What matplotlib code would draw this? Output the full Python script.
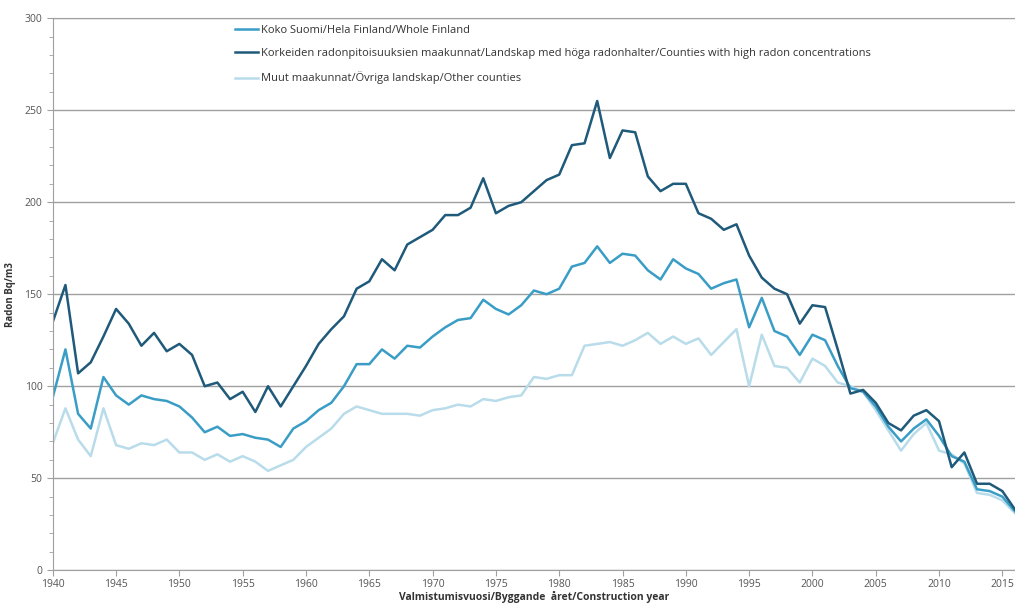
import numpy as np
import matplotlib
matplotlib.use("Agg")
import matplotlib.pyplot as plt
from matplotlib.ticker import MultipleLocator

plt.rcParams['font.family'] = ['Open Sans', 'DejaVu Sans']

# Data (Bq/m3 by construction year)
years = list(range(1940, 2017))

whole_finland = [
    94, 120, 85, 77, 105, 95, 90, 95, 93, 92,
    89, 83, 75, 78, 73, 74, 72, 71, 67, 77,
    81, 87, 91, 100, 112, 112, 120, 115, 122, 121,
    127, 132, 136, 137, 147, 142, 139, 144, 152, 150,
    153, 165, 167, 176, 167, 172, 171, 163, 158, 169,
    164, 161, 153, 156, 158, 132, 148, 130, 127, 117,
    128, 125, 111, 99, 97, 89, 78, 70, 77, 82,
    73, 62, 59, 44, 43, 40, 32,
]
high_radon = [
    135, 155, 107, 113, 127, 142, 134, 122, 129, 119,
    123, 117, 100, 102, 93, 97, 86, 100, 89, 100,
    111, 123, 131, 138, 153, 157, 169, 163, 177, 181,
    185, 193, 193, 197, 213, 194, 198, 200, 206, 212,
    215, 231, 232, 255, 224, 239, 238, 214, 206, 210,
    210, 194, 191, 185, 188, 171, 159, 153, 150, 134,
    144, 143, 120, 96, 98, 91, 80, 76, 84, 87,
    81, 56, 64, 47, 47, 43, 33,
]
other_counties = [
    69, 88, 71, 62, 88, 68, 66, 69, 68, 71,
    64, 64, 60, 63, 59, 62, 59, 54, 57, 60,
    67, 72, 77, 85, 89, 87, 85, 85, 85, 84,
    87, 88, 90, 89, 93, 92, 94, 95, 105, 104,
    106, 106, 122, 123, 124, 122, 125, 129, 123, 127,
    123, 126, 117, 124, 131, 100, 128, 111, 110, 102,
    115, 111, 102, 100, 97, 87, 76, 65, 74, 80,
    65, 63, 58, 42, 41, 38, 31,
]

labels = [
    "Koko Suomi/Hela Finland/Whole Finland",
    "Korkeiden radonpitoisuuksien maakunnat/Landskap med höga radonhalter/Counties with high radon concentrations",
    "Muut maakunnat/Övriga landskap/Other counties",
]
colors = ["#3a9dc6", "#1f5a7a", "#b9dcea"]

fig = plt.figure(figsize=(10.15, 6.06), dpi=100)
ax = fig.add_axes([0.052, 0.059, 0.948, 0.911])

l_light, = ax.plot(years, other_counties, color=colors[2], lw=1.8, label=labels[2])
l_mid, = ax.plot(years, whole_finland, color=colors[0], lw=1.8, label=labels[0])
l_dark, = ax.plot(years, high_radon, color=colors[1], lw=1.8, label=labels[1])

ax.set_xlim(1940, 2016)
ax.set_ylim(0, 300)
ax.xaxis.set_major_locator(MultipleLocator(5))
ax.yaxis.set_major_locator(MultipleLocator(50))
ax.yaxis.set_minor_locator(MultipleLocator(10))
ax.grid(axis='y', which='major', color='#a0a0a0', lw=1.0)
ax.set_axisbelow(True)

ax.spines['right'].set_visible(False)
for side in ['left', 'bottom', 'top']:
    ax.spines[side].set_color('#a0a0a0')
ax.tick_params(axis='both', which='both', colors='#a0a0a0', labelcolor='#555555',
               labelsize=7.5, length=4, direction='out')
ax.tick_params(axis='x', pad=2)
ax.tick_params(axis='y', which='minor', length=3)

ax.set_ylabel("Radon Bq/m3", fontsize=7, fontweight='bold', color='#333333', labelpad=6)
ax.set_xlabel("Valmistumisvuosi/Byggande  året/Construction year", fontsize=7.5,
              fontweight='bold', color='#333333', labelpad=1)

ax.legend(handles=[l_mid, l_dark, l_light], loc='upper left',
          bbox_to_anchor=(0.222, 0.975), bbox_transform=fig.transFigure,
          frameon=False, fontsize=8, labelspacing=1.1, handlelength=2.0,
          handletextpad=0.3, labelcolor='#333333')

fig.savefig("out.png", dpi=100)
